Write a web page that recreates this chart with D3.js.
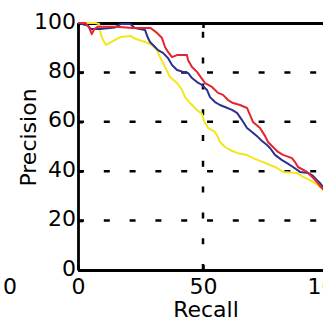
<!DOCTYPE html>
<html>
<head>
<meta charset="utf-8">
<script src="https://cdn.jsdelivr.net/npm/d3@7"></script>
<style>
  html, body { margin: 0; padding: 0; background: #fff; }
  svg { display: block; }
  text { font-family: "DejaVu Sans", sans-serif; font-size: 22px; fill: #000; }
</style>
</head>
<body>
<svg id="chart" width="323" height="322"></svg>
<script>
// Precision / recall curves for three methods
const redRecall = [0, 3, 4.5, 5.5, 6.5, 8, 15, 22, 29, 31.6, 33.6, 34.8, 36, 37.6, 39.6, 43.6, 44, 45.6, 47.6, 48.8, 50.8, 53.6, 56, 58, 60, 62, 64.8, 67.6, 68.8, 70, 72.8, 74.8, 76, 78, 80, 82, 85.6, 86.8, 88, 91.6, 93.6, 95.6, 96.8, 98, 100];
const redPrecision = [100, 100, 98, 95.5, 97.5, 98.5, 98.5, 98, 98, 96, 93.9, 90.3, 88.3, 86.2, 87, 87, 85, 82.2, 80.2, 78.5, 75.7, 74.1, 71.7, 70.9, 68.8, 67.6, 66.8, 65.6, 62.8, 59.9, 57.5, 54.3, 51.8, 49.8, 47.8, 46.6, 45.3, 43.7, 41.7, 39.7, 37.7, 35.6, 34, 32.8, 31.5];

const blueRecall = [0, 4, 5, 8.8, 14.8, 17.2, 20.8, 22.8, 26.8, 28, 28.8, 30.8, 32, 34, 36, 37.6, 39.6, 42, 44, 45.6, 47.6, 49.6, 51.6, 52.8, 54.8, 56.8, 58.8, 61.6, 63.6, 65.6, 67.6, 69.6, 72, 73.6, 75.6, 76.8, 78.8, 81.6, 83.6, 86, 88.8, 92, 94, 95.6, 96.8, 98, 100];
const bluePrecision = [100, 99, 97.6, 97.6, 98.2, 99.6, 99.6, 98, 97.2, 93.9, 92.3, 90.3, 89, 87.9, 85.8, 83, 81, 80.2, 79.8, 77.7, 76.1, 74.9, 72.9, 70, 68, 66.8, 66, 64.8, 63.6, 60.7, 57.5, 55.9, 53.8, 52.2, 50.6, 49.4, 46.6, 44.5, 43.3, 41.7, 39.7, 39.3, 38.1, 36.4, 35.2, 33.6, 32.5];

const yellowRecall = [0, 7, 8.4, 9.2, 10, 11.2, 13.2, 16.8, 21.2, 23.2, 26.8, 28.8, 30, 31.6, 32.8, 34.8, 36.8, 39.6, 41.6, 42.8, 44.8, 47.6, 49.6, 50.4, 52, 54.8, 56, 56.8, 58.8, 60.8, 63.6, 67.6, 70, 74, 76.8, 79.6, 82, 87.6, 90, 92.8, 94.8, 96.8, 98, 100];
const yellowPrecision = [100, 100, 99.6, 95.1, 93.1, 91.1, 92.3, 94.3, 94.7, 93.5, 92.3, 91.5, 90.7, 89.1, 86.2, 82.2, 78.1, 75.7, 72.9, 70, 67.6, 64.8, 63.2, 60.3, 57.5, 55.9, 53.8, 51.8, 49.8, 48.6, 47.4, 46.6, 45.3, 43.7, 42.5, 41.3, 39.7, 39.3, 37.7, 36.4, 35.2, 33.6, 32.4, 31.5];

const xTicks = [0, 50, 100];
const yTicks = [0, 20, 40, 60, 80, 100];
const xTickLabels = ["0", "50", "100"];
const yTickLabels = ["0", "20", "40", "60", "80", "100"];
const xLabel = "Recall";
const yLabel = "Precision";
const strayLabel = "0";

const series = [
  { name: "yellow", color: "#f5e51c", recall: yellowRecall, precision: yellowPrecision },
  { name: "blue",   color: "#2c3190", recall: blueRecall,   precision: bluePrecision },
  { name: "red",    color: "#e8232b", recall: redRecall,    precision: redPrecision }
];

const svg = d3.select("#chart");
const x = d3.scaleLinear().domain([0, 100]).range([78, 328]);
const y = d3.scaleLinear().domain([0, 100]).range([270, 23]);

// dotted grid
const grid = svg.append("g")
  .attr("stroke", "#000").attr("stroke-width", 2.5).attr("stroke-dasharray", "6,19.8");
grid.selectAll("line.h").data(yTicks.filter(v => v > 0 && v < 100)).join("line")
  .attr("class", "h")
  .attr("x1", x(0)).attr("x2", x(100))
  .attr("y1", d => y(d)).attr("y2", d => y(d));
grid.selectAll("line.v").data(xTicks.filter(v => v > 0 && v < 100)).join("line")
  .attr("class", "v")
  .attr("x1", d => x(d)).attr("x2", d => x(d))
  .attr("y1", y(0)).attr("y2", y(100));

// axes box (left, bottom, top) with inward ticks
const yAxis = d3.axisLeft(y).tickValues(yTicks)
  .tickFormat((d, i) => yTickLabels[i]).tickSizeInner(-5).tickSizeOuter(0).tickPadding(7);
const xAxis = d3.axisBottom(x).tickValues(xTicks)
  .tickFormat((d, i) => xTickLabels[i]).tickSizeInner(-5).tickSizeOuter(0).tickPadding(10);
const xTop = d3.axisTop(x).tickValues(xTicks).tickFormat("").tickSizeInner(-5).tickSizeOuter(0);

const gy = svg.append("g").attr("transform", `translate(${x(0)},0)`).call(yAxis);
const gx = svg.append("g").attr("transform", `translate(0,${y(0)})`).call(xAxis);
const gt = svg.append("g").attr("transform", `translate(0,${y(100)})`).call(xTop);

[gy, gx, gt].forEach(g => {
  g.select(".domain").attr("stroke", "#000").attr("stroke-width", 2.8);
  g.selectAll(".tick line").attr("stroke", "#000").attr("stroke-width", 2.5);
  g.selectAll("text").attr("font-family", "DejaVu Sans").attr("font-size", 22).attr("fill", "#000");
});
gy.selectAll("text").attr("x", -2).attr("dy", null).attr("y", 5);
gx.selectAll("text").attr("dy", null).attr("y", 24);

// curves
const line = d3.line().x(d => x(d[0])).y(d => y(d[1]));
svg.append("g").selectAll("path").data(series).join("path")
  .attr("fill", "none")
  .attr("stroke", d => d.color)
  .attr("stroke-width", 2)
  .attr("stroke-linejoin", "round")
  .attr("d", d => line(d.recall.map((r, i) => [r, d.precision[i]])));

// axis titles
svg.append("text").attr("x", 206).attr("y", 317).attr("font-size", 21)
  .attr("text-anchor", "middle").text(xLabel);
svg.append("text")
  .attr("transform", `translate(36,${(y(0) + y(100)) / 2 - 9}) rotate(-90)`)
  .attr("text-anchor", "middle").text(yLabel);

// label from the neighbouring panel
svg.append("text").attr("x", 10).attr("y", 294).attr("text-anchor", "middle").text(strayLabel);
</script>
</body>
</html>
